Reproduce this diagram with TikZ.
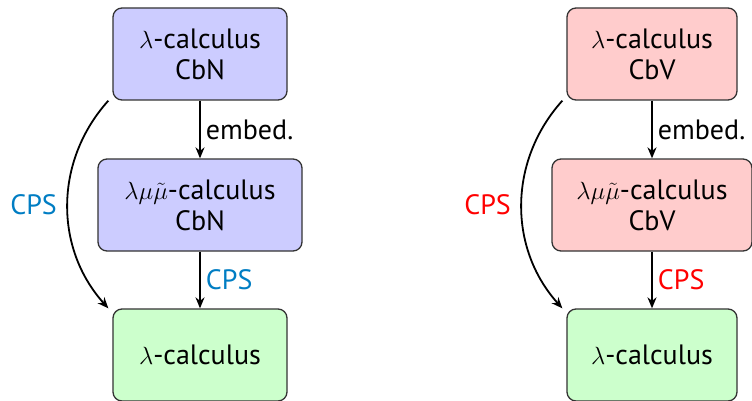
\documentclass[tikz,border=0pt]{standalone}
\usepackage{fontspec}
\setmainfont{PT Sans}
\usetikzlibrary{arrows.meta}
\definecolor{cpsblue}{RGB}{0,125,195}
\tikzset{
  box/.style={draw=black!80, line width=1.3pt, rounded corners=9pt, minimum width=174pt, minimum height=92pt, align=center, font=\fontsize{28}{31}\selectfont},
  wide/.style={minimum width=204pt},
  arr/.style={-{Stealth[length=11pt,width=9pt]}, line width=1.8pt},
  lbl/.style={font=\fontsize{28}{32}\selectfont}
}
\begin{document}
\begin{tikzpicture}[x=1pt,y=1pt]
\useasboundingbox (0,0) rectangle (752,-401);
% left column
\node[box, fill=blue!20] (a1) at (200,-54) {$\lambda$-calculus\\CbN};
\node[box, wide, fill=blue!20] (a2) at (200,-205) {$\lambda\mu\tilde\mu$-calculus\\CbN};
\node[box, fill=green!20] (a3) at (200,-355) {$\lambda$-calculus};
\draw[arr] (a1) -- node[lbl, right, inner sep=5pt] {embed.} (a2);
\draw[arr] (a2) -- node[lbl, right, inner sep=5pt, text=cpsblue] {CPS} (a3);
\draw[arr] ([xshift=-4pt]a1.south west) to[bend right=42] node[lbl, left, inner sep=10pt, text=cpsblue] {CPS} ([xshift=-4pt]a3.north west);
% right column
\node[box, minimum width=170pt, fill=red!20] (b1) at (652,-54) {$\lambda$-calculus\\CbV};
\node[box, minimum width=200pt, fill=red!20] (b2) at (652,-205) {$\lambda\mu\tilde\mu$-calculus\\CbV};
\node[box, minimum width=170pt, fill=green!20] (b3) at (652,-355) {$\lambda$-calculus};
\draw[arr] (b1) -- node[lbl, right, inner sep=5pt] {embed.} (b2);
\draw[arr] (b2) -- node[lbl, right, inner sep=5pt, text=red] {CPS} (b3);
\draw[arr] ([xshift=-4pt]b1.south west) to[bend right=42] node[lbl, left, inner sep=10pt, text=red] {CPS} ([xshift=-4pt]b3.north west);
\end{tikzpicture}
\end{document}
